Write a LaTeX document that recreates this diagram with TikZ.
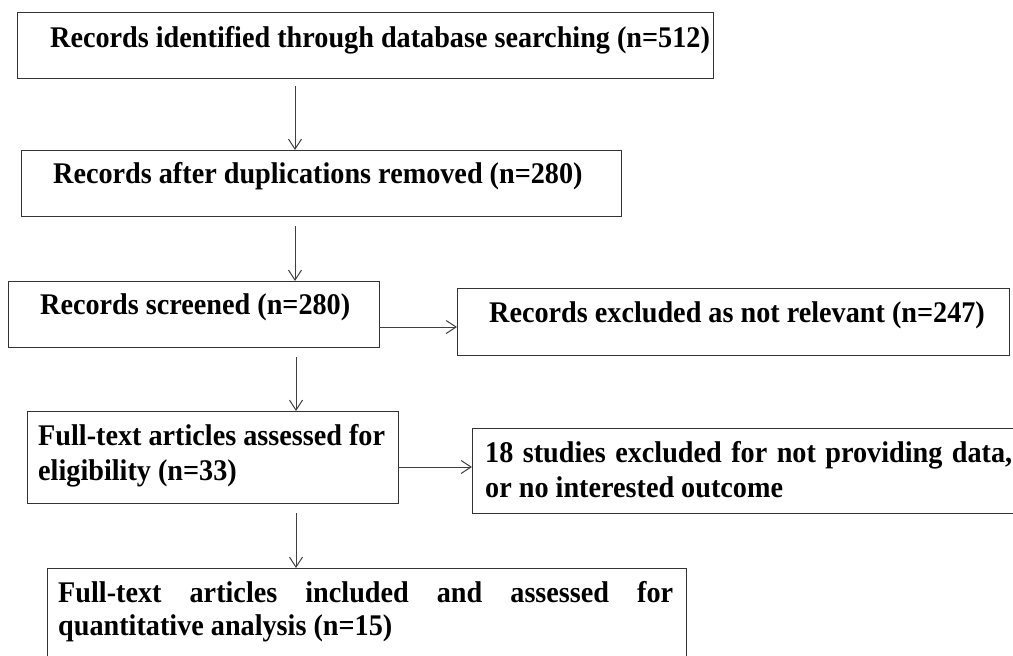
\documentclass[tikz,border=0pt]{standalone}
\usepackage{fontspec}
\setmainfont{Liberation Serif}[FakeStretch=0.94]
\usetikzlibrary{arrows.meta}
\tikzset{
  box/.style={draw=black!80, line width=1.2pt, rectangle, inner sep=0pt, anchor=north west},
  txt/.style={anchor=base west, inner sep=0pt, font=\fontsize{30}{35}\selectfont\bfseries, text=black},
  arr/.style={draw=black!75, line width=1pt, -{Straight Barb[length=10pt,width=13pt,line width=1pt]}}
}
\begin{document}
\begin{tikzpicture}[x=1pt,y=-1pt]
\clip (0,0) rectangle (1013,656);
\fill[white] (0,0) rectangle (1013,656);
% boxes
\node[box, minimum width=696pt, minimum height=66pt] (b1) at (17,12) {};
\node[box, minimum width=600pt, minimum height=66pt] (b2) at (21,150) {};
\node[box, minimum width=371pt, minimum height=66pt] (b3) at (8,281) {};
\node[box, minimum width=552pt, minimum height=67pt] (b4) at (457,288) {};
\node[box, minimum width=371pt, minimum height=92pt] (b5) at (27,411) {};
\node[box, minimum width=560pt, minimum height=85pt] (b6) at (472,428) {};
\node[box, minimum width=639pt, minimum height=95pt] (b7) at (47,568) {};
% texts
\node[txt] (t1) at (50,47) {Records identified through database searching (n=512)};
\node[txt] (t2) at (53,183) {Records after duplications removed (n=280)};
\node[txt] (t3) at (40,314) {Records screened (n=280)};
\node[txt] (t4) at (489,322) {Records excluded as not relevant (n=247)};
\node[txt] (t5a) at (38,445) {Full-text articles assessed for};
\node[txt] (t5b) at (38,480) {eligibility (n=33)};
\node[txt] (t6a) at (485,462) {\makebox[527pt][s]{18 studies excluded for not providing data,}};
\node[txt] (t6b) at (485,497) {or no interested outcome};
\node[txt] (t7a) at (58,602) {\makebox[615pt][s]{Full-text articles included and assessed for}};
\node[txt] (t7b) at (58,635) {quantitative analysis (n=15)};
% connector start points
\coordinate (c1) at (295,86);
\coordinate (c2) at (295,226);
\coordinate (c4) at (296,357);
\coordinate (c6) at (296,513);
\coordinate (c3) at (379,327);
\coordinate (c5) at (398,467);
% connectors
\draw[arr] (c1) -- (c1 |- b2.north);
\draw[arr] (c2) -- (c2 |- b3.north);
\draw[arr] (c3) -- (c3 -| b4.west);
\draw[arr] (c4) -- (c4 |- b5.north);
\draw[arr] (c5) -- (c5 -| b6.west);
\draw[arr] (c6) -- (c6 |- b7.north);
\end{tikzpicture}
\end{document}
